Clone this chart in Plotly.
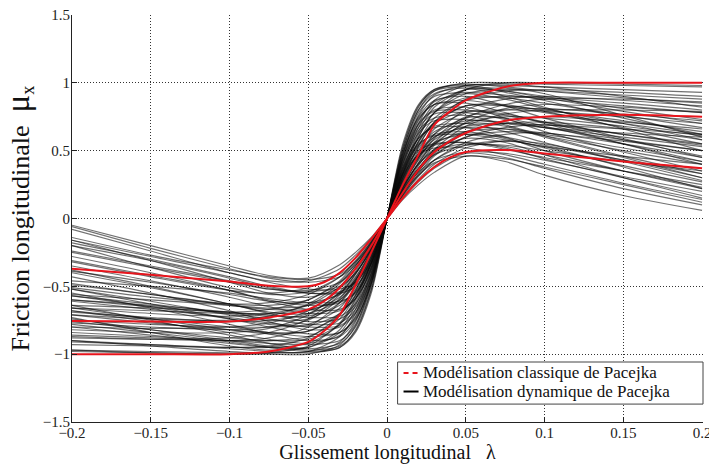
import plotly.graph_objects as go

# ---------------- data ----------------
X_RIGHT = [0.0, 0.01, 0.02, 0.03, 0.05, 0.075, 0.1, 0.15, 0.2]
X_LEFT = [0.0, -0.01, -0.02, -0.03, -0.05, -0.075, -0.1, -0.15, -0.2]

X_RED = [-0.2, -0.15, -0.1, -0.075, -0.05, -0.04, -0.03, -0.02, -0.01, 0.0,
         0.01, 0.02, 0.03, 0.04, 0.05, 0.075, 0.1, 0.15, 0.2]
RED_HIGH = [-1.0, -1.0, -1.0, -0.98, -0.91, -0.83, -0.71, -0.49, -0.25, 0.0,
            0.25, 0.47, 0.69, 0.79, 0.87, 0.97, 1.0, 1.0, 1.0]
RED_MID = [-0.755, -0.76, -0.76, -0.73, -0.67, -0.61, -0.51, -0.37, -0.2, 0.0,
           0.19, 0.36, 0.49, 0.57, 0.63, 0.72, 0.75, 0.765, 0.75]
RED_LOW = [-0.37, -0.415, -0.465, -0.495, -0.5, -0.47, -0.4, -0.29, -0.15, 0.0,
           0.15, 0.28, 0.38, 0.45, 0.49, 0.505, 0.48, 0.42, 0.37]

# dynamic Pacejka curves, values at X_RIGHT[1:]
DYN_RIGHT = [
    [0.50, 0.80, 0.94, 1.00, 1.00, 0.99, 0.98, 0.97],
    [0.34, 0.60, 0.78, 0.95, 1.00, 1.00, 0.99, 0.98],
    [0.52, 0.82, 0.95, 0.99, 0.97, 0.94, 0.89, 0.85],
    [0.55, 0.84, 0.95, 0.98, 0.94, 0.89, 0.79, 0.70],
    [0.36, 0.64, 0.82, 0.95, 0.96, 0.92, 0.76, 0.60],
    [0.50, 0.80, 0.92, 0.96, 0.90, 0.82, 0.66, 0.50],
    [0.33, 0.60, 0.78, 0.92, 0.95, 0.94, 0.91, 0.88],
    [0.48, 0.78, 0.90, 0.93, 0.91, 0.88, 0.83, 0.78],
    [0.47, 0.75, 0.87, 0.90, 0.83, 0.74, 0.59, 0.45],
    [0.32, 0.57, 0.74, 0.87, 0.90, 0.89, 0.85, 0.80],
    [0.22, 0.41, 0.56, 0.74, 0.84, 0.88, 0.88, 0.86],
    [0.45, 0.73, 0.84, 0.87, 0.83, 0.78, 0.70, 0.62],
    [0.30, 0.54, 0.70, 0.83, 0.84, 0.79, 0.67, 0.55],
    [0.21, 0.39, 0.54, 0.71, 0.81, 0.84, 0.82, 0.78],
    [0.44, 0.70, 0.80, 0.82, 0.74, 0.64, 0.49, 0.35],
    [0.28, 0.50, 0.66, 0.78, 0.80, 0.79, 0.75, 0.70],
    [0.20, 0.37, 0.51, 0.68, 0.77, 0.80, 0.80, 0.79],
    [0.42, 0.67, 0.77, 0.78, 0.73, 0.67, 0.58, 0.50],
    [0.27, 0.48, 0.62, 0.74, 0.74, 0.68, 0.55, 0.42],
    [0.18, 0.35, 0.48, 0.63, 0.72, 0.75, 0.71, 0.66],
    [0.40, 0.63, 0.72, 0.73, 0.70, 0.67, 0.63, 0.60],
    [0.26, 0.46, 0.60, 0.70, 0.68, 0.60, 0.45, 0.30],
    [0.18, 0.33, 0.46, 0.60, 0.67, 0.69, 0.62, 0.55],
    [0.25, 0.45, 0.58, 0.68, 0.70, 0.69, 0.66, 0.62],
    [0.38, 0.59, 0.67, 0.67, 0.60, 0.50, 0.35, 0.22],
    [0.24, 0.43, 0.55, 0.64, 0.66, 0.63, 0.57, 0.50],
    [0.17, 0.31, 0.43, 0.56, 0.62, 0.63, 0.55, 0.45],
    [0.36, 0.55, 0.61, 0.62, 0.58, 0.53, 0.46, 0.40],
    [0.23, 0.40, 0.51, 0.59, 0.56, 0.47, 0.30, 0.15],
    [0.16, 0.29, 0.40, 0.52, 0.57, 0.55, 0.43, 0.30],
    [0.33, 0.50, 0.55, 0.56, 0.51, 0.45, 0.35, 0.25],
    [0.21, 0.37, 0.47, 0.54, 0.54, 0.50, 0.42, 0.35],
    [0.15, 0.27, 0.37, 0.48, 0.45, 0.37, 0.22, 0.10],
    [0.20, 0.34, 0.43, 0.49, 0.48, 0.43, 0.31, 0.20],
    [0.14, 0.25, 0.34, 0.46, 0.42, 0.32, 0.17, 0.06],
    [0.19, 0.32, 0.41, 0.46, 0.44, 0.38, 0.25, 0.12],
    [0.46, 0.76, 0.91, 0.98, 0.98, 0.97, 0.95, 0.93],
    [0.40, 0.70, 0.87, 0.98, 0.99, 0.97, 0.90, 0.82],
    [0.53, 0.83, 0.94, 0.97, 0.93, 0.87, 0.74, 0.62],
    [0.38, 0.67, 0.84, 0.95, 0.94, 0.90, 0.81, 0.73],
    [0.29, 0.53, 0.71, 0.88, 0.94, 0.95, 0.93, 0.90],
    [0.44, 0.72, 0.86, 0.92, 0.88, 0.81, 0.70, 0.58],
    [0.35, 0.62, 0.78, 0.89, 0.89, 0.85, 0.76, 0.67],
    [0.25, 0.46, 0.62, 0.80, 0.88, 0.90, 0.87, 0.83],
    [0.48, 0.74, 0.84, 0.85, 0.78, 0.70, 0.55, 0.40],
    [0.31, 0.56, 0.71, 0.83, 0.83, 0.80, 0.72, 0.64],
    [0.24, 0.44, 0.59, 0.75, 0.80, 0.81, 0.77, 0.72],
    [0.43, 0.69, 0.79, 0.80, 0.76, 0.71, 0.62, 0.54],
    [0.33, 0.57, 0.70, 0.79, 0.77, 0.71, 0.58, 0.46],
    [0.22, 0.41, 0.55, 0.70, 0.75, 0.74, 0.68, 0.61],
    [0.41, 0.65, 0.74, 0.76, 0.69, 0.61, 0.46, 0.33],
    [0.30, 0.52, 0.64, 0.72, 0.71, 0.67, 0.60, 0.53],
    [0.20, 0.37, 0.50, 0.64, 0.70, 0.71, 0.66, 0.58],
    [0.37, 0.59, 0.68, 0.70, 0.64, 0.56, 0.42, 0.28],
    [0.28, 0.48, 0.60, 0.67, 0.66, 0.61, 0.50, 0.40],
    [0.19, 0.35, 0.47, 0.60, 0.64, 0.62, 0.52, 0.42],
    [0.34, 0.54, 0.62, 0.64, 0.59, 0.52, 0.39, 0.27],
    [0.26, 0.45, 0.56, 0.62, 0.60, 0.54, 0.43, 0.33],
    [0.17, 0.32, 0.43, 0.54, 0.57, 0.53, 0.38, 0.22],
    [0.30, 0.47, 0.54, 0.56, 0.52, 0.44, 0.30, 0.17],
    [0.23, 0.40, 0.50, 0.55, 0.53, 0.47, 0.35, 0.23],
    [0.32, 0.47, 0.52, 0.52, 0.47, 0.40, 0.26, 0.14],
]

# values at X_LEFT[1:]
DYN_LEFT = [
    [-0.48, -0.79, -0.93, -1.00, -1.00, -1.00, -0.99, -0.98],
    [-0.33, -0.59, -0.77, -0.94, -0.99, -1.00, -0.99, -0.97],
    [-0.52, -0.82, -0.95, -0.99, -0.98, -0.96, -0.93, -0.90],
    [-0.55, -0.84, -0.95, -0.98, -0.95, -0.91, -0.84, -0.78],
    [-0.36, -0.64, -0.82, -0.95, -0.97, -0.94, -0.84, -0.73],
    [-0.50, -0.80, -0.92, -0.96, -0.92, -0.86, -0.75, -0.64],
    [-0.33, -0.60, -0.78, -0.92, -0.95, -0.95, -0.93, -0.91],
    [-0.48, -0.78, -0.90, -0.93, -0.92, -0.90, -0.87, -0.84],
    [-0.47, -0.75, -0.87, -0.90, -0.85, -0.78, -0.66, -0.55],
    [-0.32, -0.57, -0.74, -0.87, -0.90, -0.90, -0.88, -0.86],
    [-0.22, -0.41, -0.56, -0.74, -0.84, -0.88, -0.89, -0.88],
    [-0.45, -0.73, -0.84, -0.87, -0.84, -0.80, -0.74, -0.68],
    [-0.30, -0.54, -0.70, -0.83, -0.85, -0.82, -0.74, -0.66],
    [-0.21, -0.39, -0.54, -0.71, -0.81, -0.84, -0.84, -0.82],
    [-0.44, -0.70, -0.80, -0.82, -0.76, -0.68, -0.55, -0.43],
    [-0.28, -0.50, -0.66, -0.78, -0.80, -0.80, -0.78, -0.75],
    [-0.20, -0.37, -0.51, -0.68, -0.77, -0.80, -0.81, -0.80],
    [-0.42, -0.67, -0.77, -0.78, -0.74, -0.70, -0.63, -0.57],
    [-0.27, -0.48, -0.62, -0.74, -0.75, -0.71, -0.61, -0.52],
    [-0.18, -0.35, -0.48, -0.63, -0.72, -0.75, -0.74, -0.71],
    [-0.40, -0.63, -0.72, -0.73, -0.71, -0.69, -0.66, -0.64],
    [-0.26, -0.46, -0.60, -0.70, -0.69, -0.63, -0.50, -0.38],
    [-0.18, -0.33, -0.46, -0.60, -0.67, -0.69, -0.65, -0.60],
    [-0.25, -0.45, -0.58, -0.68, -0.70, -0.70, -0.68, -0.66],
    [-0.38, -0.59, -0.67, -0.67, -0.61, -0.53, -0.40, -0.28],
    [-0.24, -0.43, -0.55, -0.64, -0.66, -0.64, -0.60, -0.56],
    [-0.17, -0.31, -0.43, -0.56, -0.62, -0.63, -0.58, -0.51],
    [-0.36, -0.55, -0.61, -0.62, -0.59, -0.55, -0.50, -0.46],
    [-0.23, -0.40, -0.51, -0.58, -0.55, -0.47, -0.31, -0.16],
    [-0.16, -0.29, -0.40, -0.51, -0.55, -0.53, -0.43, -0.32],
    [-0.33, -0.50, -0.55, -0.55, -0.50, -0.43, -0.30, -0.18],
    [-0.21, -0.37, -0.47, -0.53, -0.52, -0.47, -0.36, -0.25],
    [-0.15, -0.27, -0.37, -0.46, -0.46, -0.40, -0.24, -0.08],
    [-0.20, -0.34, -0.43, -0.47, -0.44, -0.37, -0.22, -0.06],
    [-0.14, -0.25, -0.34, -0.44, -0.42, -0.35, -0.20, -0.05],
    [-0.19, -0.32, -0.41, -0.45, -0.43, -0.38, -0.27, -0.14],
    [-0.46, -0.76, -0.91, -0.98, -0.99, -0.99, -0.98, -0.97],
    [-0.40, -0.70, -0.87, -0.98, -0.99, -0.98, -0.94, -0.90],
    [-0.53, -0.83, -0.94, -0.97, -0.94, -0.90, -0.82, -0.74],
    [-0.38, -0.67, -0.84, -0.95, -0.95, -0.92, -0.86, -0.80],
    [-0.29, -0.53, -0.71, -0.88, -0.94, -0.95, -0.94, -0.93],
    [-0.44, -0.72, -0.86, -0.92, -0.89, -0.84, -0.76, -0.68],
    [-0.35, -0.62, -0.78, -0.89, -0.90, -0.88, -0.82, -0.76],
    [-0.25, -0.46, -0.62, -0.80, -0.88, -0.90, -0.89, -0.87],
    [-0.48, -0.74, -0.84, -0.85, -0.80, -0.74, -0.63, -0.52],
    [-0.31, -0.56, -0.71, -0.83, -0.84, -0.82, -0.77, -0.71],
    [-0.24, -0.44, -0.59, -0.75, -0.80, -0.82, -0.80, -0.77],
    [-0.43, -0.69, -0.79, -0.80, -0.77, -0.73, -0.67, -0.61],
    [-0.33, -0.57, -0.70, -0.79, -0.78, -0.74, -0.65, -0.57],
    [-0.22, -0.41, -0.55, -0.70, -0.75, -0.76, -0.73, -0.69],
    [-0.41, -0.65, -0.74, -0.76, -0.70, -0.63, -0.51, -0.40],
    [-0.30, -0.52, -0.64, -0.72, -0.72, -0.69, -0.64, -0.60],
    [-0.20, -0.37, -0.50, -0.64, -0.70, -0.72, -0.70, -0.66],
    [-0.37, -0.59, -0.68, -0.70, -0.65, -0.58, -0.46, -0.35],
    [-0.28, -0.48, -0.60, -0.67, -0.67, -0.64, -0.56, -0.49],
    [-0.19, -0.35, -0.47, -0.60, -0.64, -0.63, -0.56, -0.48],
    [-0.34, -0.54, -0.62, -0.64, -0.60, -0.53, -0.42, -0.31],
    [-0.26, -0.45, -0.56, -0.62, -0.61, -0.56, -0.47, -0.39],
    [-0.17, -0.32, -0.43, -0.54, -0.56, -0.51, -0.36, -0.20],
    [-0.30, -0.47, -0.54, -0.55, -0.51, -0.44, -0.31, -0.20],
    [-0.23, -0.40, -0.50, -0.54, -0.52, -0.46, -0.35, -0.24],
    [-0.32, -0.47, -0.52, -0.52, -0.47, -0.40, -0.28, -0.16],
]

X_TICKS = [-0.2, -0.15, -0.1, -0.05, 0, 0.05, 0.1, 0.15, 0.2]
X_TICK_TEXT = ["−0.2", "−0.15", "−0.1", "−0.05", "0", "0.05", "0.1", "0.15", "0.2"]
Y_TICKS = [-1.5, -1, -0.5, 0, 0.5, 1, 1.5]
Y_TICK_TEXT = ["−1.5", "−1", "−0.5", "0", "0.5", "1", "1.5"]

LEGEND_CLASSIC = "Modélisation classique de Pacejka"
LEGEND_DYNAMIC = "Modélisation dynamique de Pacejka"

RED = "#e8141c"
SERIF = "Liberation Serif"

# ---------------- figure ----------------
fig = go.Figure()

xs, ys = [], []
for left, right in zip(DYN_LEFT, DYN_RIGHT):
    xs += list(reversed(X_LEFT)) + X_RIGHT[1:] + [None]
    ys += list(reversed([0.0] + left)) + right + [None]

fig.add_trace(go.Scatter(
    x=xs, y=ys, mode="lines", showlegend=False, hoverinfo="skip",
    line=dict(color="rgba(10,10,10,0.58)", width=1.15, shape="spline", smoothing=0.8),
))

for red in (RED_HIGH, RED_MID, RED_LOW):
    fig.add_trace(go.Scatter(
        x=X_RED, y=red, mode="lines", showlegend=False, hoverinfo="skip",
        line=dict(color=RED, width=2, shape="spline", smoothing=0.8),
    ))

# manual legend (box, symbols, texts) in paper coordinates
fig.add_shape(type="rect", xref="paper", yref="paper", x0=0.516, x1=1.0, y0=0.044, y1=0.1474,
              line=dict(color="#444", width=1), fillcolor="white", layer="above")
fig.add_shape(type="line", xref="paper", yref="paper", x0=0.5254, x1=0.5492, y0=0.1204, y1=0.1204,
              line=dict(color=RED, width=2, dash="5px,4px"), layer="above")
fig.add_shape(type="line", xref="paper", yref="paper", x0=0.5254, x1=0.5492, y0=0.0749, y1=0.0749,
              line=dict(color="black", width=2), layer="above")
fig.add_annotation(xref="paper", yref="paper", x=0.553, y=0.1204, xanchor="left", yanchor="middle",
                   text=LEGEND_CLASSIC, showarrow=False,
                   font=dict(family=SERIF, size=17, color="#111"))
fig.add_annotation(xref="paper", yref="paper", x=0.553, y=0.0749, xanchor="left", yanchor="middle",
                   text=LEGEND_DYNAMIC, showarrow=False,
                   font=dict(family=SERIF, size=17, color="#111"))

fig.update_layout(
    width=709, height=465,
    margin=dict(l=72, r=6, t=15, b=43),
    paper_bgcolor="white", plot_bgcolor="white",
    font=dict(family=SERIF, color="#222", size=15),
    showlegend=False,
)

fig.update_xaxes(
    range=[-0.2, 0.2006], tickvals=X_TICKS, ticktext=X_TICK_TEXT, automargin=False,
    showgrid=True, gridcolor="#333", griddash="1px,2px", gridwidth=1,
    zeroline=False, showline=True, linecolor="#222", linewidth=1,
    ticks="inside", ticklen=5, tickcolor="#222",
    ticklabeloverflow="allow", ticklabelstandoff=-3,
    tickfont=dict(family=SERIF, size=15, color="#222"),
    title=dict(text="Glissement longitudinal   λ", font=dict(family=SERIF, size=20, color="#111"),
               standoff=3),
)
fig.update_yaxes(
    range=[-1.5, 1.5], tickvals=Y_TICKS, ticktext=Y_TICK_TEXT, automargin=False,
    showgrid=True, gridcolor="#333", griddash="1px,2px", gridwidth=1,
    zeroline=False, showline=True, linecolor="#222", linewidth=1,
    ticks="inside", ticklen=5, tickcolor="#222",
    ticklabelstandoff=-2,
    tickfont=dict(family=SERIF, size=15, color="#222"),
    title=dict(text="Friction longitudinale  <span style='font-size:33px'>μ</span><sub>x</sub>",
               font=dict(family=SERIF, size=26, color="#111"), standoff=6),
)

fig.write_html("out.html")
